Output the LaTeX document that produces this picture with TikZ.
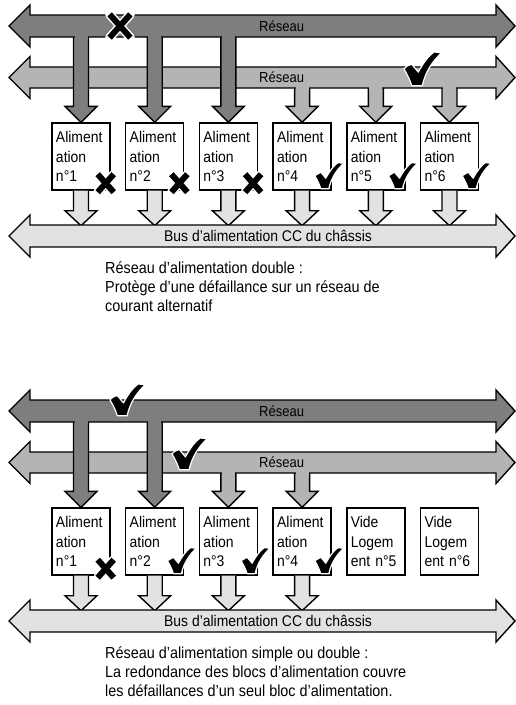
\documentclass[tikz,border=0pt]{standalone}
\usepackage{fontspec}
\setmainfont{Liberation Sans}[FakeStretch=0.9]
\usetikzlibrary{calc}
\definecolor{my_netdark}{HTML}{7E7E7E}
\definecolor{my_netlight}{HTML}{B4B4B4}
\definecolor{my_busfill}{HTML}{E2E2E2}

% waagerechter Doppelpfeil: Stil, Mitte y, halbe Schaftbreite
\newcommand{\netzpfeil}[3]{%
  \draw[#1] (9,#2) -- (30,#2-21) -- (30,#2-#3) -- (496,#2-#3) -- (496,#2-21)
    -- (515,#2) -- (496,#2+21) -- (496,#2+#3) -- (30,#2+#3) -- (30,#2+21) -- cycle;}
% Zweig vom Netz (ab y) bis an die Oberkante eines Blocks
\newcommand{\zweig}[3]{%
  \draw[#1] (#2.north) -- ++(-16,-16) -- ++(8.5,0) |- (#2.north |- 0,#3)
    -- ++(7.5,0) -- ([shift={(7.5,-16)}]#2.north) -- ++(8.5,0) -- cycle;}
% Kante des Netzes ueber dem Zweig verdecken
\newcommand{\naht}[3]{%
  \fill[#1] ($(#2.north |- 0,#3)+(-6.5,-3)$) rectangle ($(#2.north |- 0,#3)+(6.5,3)$);}
% Abgang vom Block auf den Bus
\newcommand{\abgang}[2]{%
  \draw[#1] ([xshift=-7.5pt]#2.south) -- ++(0,20) -- ++(-8.5,0) -- ++(16,15)
    -- ++(16,-15) -- ++(-8.5,0) -- ([xshift=7.5pt]#2.south);}

\begin{document}
\begin{tikzpicture}[
    x=1pt, y=-1pt,
    darknet/.style={fill=my_netdark, draw=black, line width=1.4pt},
    lightnet/.style={fill=my_netlight, draw=black, line width=1.4pt},
    busline/.style={fill=my_busfill, draw=black, line width=1.4pt},
    psbox/.style={draw=black, line width=1.4pt, fill=white, text width=50pt,
        inner sep=4pt, minimum height=67pt, align=left,
        font=\fontsize{15.5}{19.5}\selectfont},
    netlabel/.style={font=\fontsize{14.5}{16}\selectfont, anchor=west, inner sep=0pt},
    buslabel/.style={font=\fontsize{15.5}{17}\selectfont, inner sep=0pt},
    caption/.style={font=\fontsize{16}{19}\selectfont, align=left,
        anchor=north west, inner sep=0pt},
    okmark/.pic={
        \filldraw[fill=black, draw=white, line width=1.2pt, line join=round]
            (0,13) .. controls (2.5,10.5) .. (6,9.5) -- (11,15.5)
            .. controls (15,8) and (19,3) .. (23,0) -- (29,0.5)
            .. controls (22,7) and (16.5,15) .. (14,26) -- (6,26)
            .. controls (4.5,21) and (2,16.5) .. cycle;
    },
    failmark/.pic={
        \draw[white, line width=9pt, line cap=round] (-8,-9) -- (8,9) (8,-9) -- (-8,9);
        \draw[black, line width=6pt] (-8,-9) -- (8,9) (8,-9) -- (-8,9);
    }
]
\useasboundingbox (0,0) rectangle (516,705);

% ===== Oben: doppelte Einspeisung =====
% --- Bloecke ---
\foreach \i/\x in {1/81, 2/154.7, 3/228.4, 4/302.1, 5/375.8, 6/449.5}
    \node[psbox] (a\i) at (\x,156.5) {Aliment\\ation\\n°\i};

% --- Netz B (hell), Bloecke 4-6 ---
\foreach \i in {4,5,6} \zweig{lightnet}{a\i}{77};
\netzpfeil{lightnet}{77.5}{10.5}
\foreach \i in {4,5,6} \naht{my_netlight}{a\i}{88};

% --- Netz A (dunkel), Bloecke 1-3 ---
\foreach \i in {1,2,3} \zweig{darknet}{a\i}{26};
\netzpfeil{darknet}{26}{11}
\foreach \i in {1,2,3} \naht{my_netdark}{a\i}{37};

\node[netlabel] (netA1) at (259,26) {Réseau};
\node[netlabel] (netB1) at (259,77.5) {Réseau};

% --- Bus ---
\foreach \i in {1,...,6} \abgang{busline}{a\i};
\netzpfeil{busline}{236}{11}
\node[buslabel] (bus1) at (268,236) {Bus d'alimentation CC du châssis};

% --- Status ---
\pic[scale=1.3] at (120,26) {failmark};
\pic[scale=1.3] at (404,52) {okmark};
\foreach \i in {1,2,3} \pic at ($(a\i.south east)+(-5,-7.5)$) {failmark};
\foreach \i in {4,5,6} \pic at ($(a\i.south east)+(-17,-28)$) {okmark};

\node[caption] (cap1) at (105,262) {Réseau d'alimentation double :\\
    Protège d'une défaillance sur un réseau de\\courant alternatif};

% ===== Unten: einfache oder doppelte Einspeisung =====
\begin{scope}[yshift=-385pt]
% --- Bloecke ---
\foreach \i/\x in {1/81, 2/154.7, 3/228.4, 4/302.1}
    \node[psbox] (b\i) at (\x,156.5) {Aliment\\ation\\n°\i};
\foreach \i/\x in {5/375.8, 6/449.5}
    \node[psbox] (b\i) at (\x,156.5) {Vide\\Logem\\ent n°\i};

% --- Netz B (hell), Bloecke 3-4 ---
\foreach \i in {3,4} \zweig{lightnet}{b\i}{77};
\netzpfeil{lightnet}{77.5}{10.5}
\foreach \i in {3,4} \naht{my_netlight}{b\i}{88};

% --- Netz A (dunkel), Bloecke 1-2 ---
\foreach \i in {1,2} \zweig{darknet}{b\i}{26};
\netzpfeil{darknet}{26}{11}
\foreach \i in {1,2} \naht{my_netdark}{b\i}{37};

\node[netlabel] (netA2) at (259,26) {Réseau};
\node[netlabel] (netB2) at (259,77.5) {Réseau};

% --- Bus ---
\foreach \i in {1,...,4} \abgang{busline}{b\i};
\netzpfeil{busline}{236}{11}
\node[buslabel] (bus2) at (268,236) {Bus d'alimentation CC du châssis};

% --- Status ---
\pic[scale=1.22] at (110,-1) {okmark};
\pic[scale=1.22] at (172,53) {okmark};
\pic at ($(b1.south east)+(-5,-7)$) {failmark};
\foreach \i in {2,3,4} \pic at ($(b\i.south east)+(-17,-28)$) {okmark};

\node[caption] (cap2) at (105,262) {Réseau d'alimentation simple ou double :\\
    La redondance des blocs d'alimentation couvre\\
    les défaillances d'un seul bloc d'alimentation.};
\end{scope}
\end{tikzpicture}
\end{document}
